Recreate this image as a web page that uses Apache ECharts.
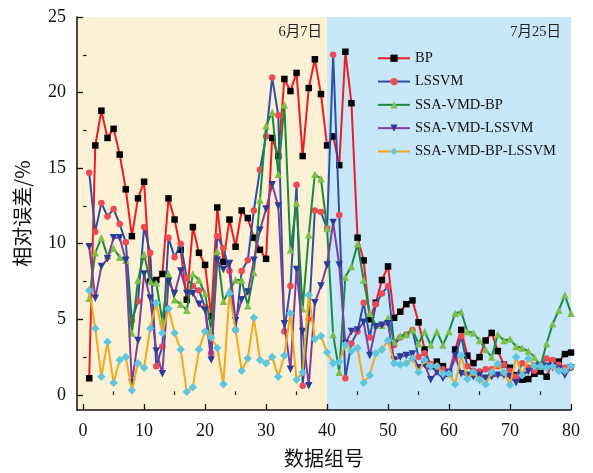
<!DOCTYPE html>
<html><head><meta charset="utf-8">
<script src="https://cdn.jsdelivr.net/npm/echarts@6/dist/echarts.min.js"></script>
<style>html,body{margin:0;padding:0;background:#fff}#c{width:593px;height:473px}</style>
</head><body><div id="c"></div>
<script>
const groups = [1,2,3,4,5,6,7,8,9,10,11,12,13,14,15,16,17,18,19,20,21,22,23,24,25,26,27,28,29,30,31,32,33,34,35,36,37,38,39,40,41,42,43,44,45,46,47,48,49,50,51,52,53,54,55,56,57,58,59,60,61,62,63,64,65,66,67,68,69,70,71,72,73,74,75,76,77,78,79,80];
const seriesNames = ['BP','LSSVM','SSA-VMD-BP','SSA-VMD-LSSVM','SSA-VMD-BP-LSSVM'];
const bp = [1.1,16.5,18.8,17.0,17.6,15.9,13.6,10.5,13.0,14.1,7.5,7.6,8.0,13.0,11.6,9.6,6.3,11.1,9.4,8.6,5.2,12.4,8.8,11.6,9.8,12.2,11.7,10.4,9.6,9.0,17.0,15.8,20.9,20.1,21.3,15.8,20.3,22.2,19.9,16.5,17.1,15.2,22.7,19.3,10.4,8.9,5.0,6.1,7.6,8.5,5.1,5.5,6.0,6.25,4.8,3.0,1.9,2.2,1.9,1.4,3.0,4.3,2.6,2.1,2.5,3.6,4.1,2.9,2.0,1.8,1.3,1.0,1.05,1.4,1.55,1.2,2.2,2.2,2.7,2.8];
const lssvm = [14.7,10.8,12.7,11.8,12.3,11.3,10.1,4.9,6.2,11.1,9.4,1.9,3.2,10.4,9.1,10.0,7.7,7.2,6.9,5.8,2.75,10.5,9.7,8.2,4.3,8.2,8.9,12.2,14.9,17.1,21.0,18.5,4.2,7.2,13.9,0.6,5.0,12.2,12.1,11.0,22.5,11.9,1.1,3.4,4.2,6.1,3.8,6.0,6.7,7.2,3.3,3.8,4.0,4.3,2.5,2.75,2.05,1.9,1.7,1.4,2.4,3.9,1.9,1.6,1.55,1.7,1.7,1.9,2.0,1.6,1.2,2.1,1.8,1.6,2.0,2.4,2.3,2.0,1.8,1.8];
const ssaVmdBp = [6.4,9.4,10.4,9.2,9.7,9.1,8.9,4.1,7.6,9.3,7.5,7.4,4.9,8.0,6.3,6.0,5.6,8.0,7.6,6.7,4.3,9.5,6.2,6.9,7.6,7.6,5.9,8.1,12.9,17.8,18.7,14.6,19.2,9.6,12.7,5.7,10.6,14.6,14.3,11.0,4.0,1.5,7.8,8.5,10.0,7.6,5.4,4.6,4.6,5.1,3.5,3.9,4.0,4.3,3.4,4.2,3.3,4.2,3.3,4.2,5.4,5.5,4.2,4.1,3.6,3.0,2.5,4.0,3.6,3.7,3.2,3.1,2.9,2.5,1.9,3.4,4.7,5.6,6.6,5.4];
const ssaVmdLssvm = [9.8,6.4,8.5,9.0,10.4,10.4,8.9,0.8,3.6,8.0,6.4,2.9,1.4,7.5,6.7,8.2,6.7,6.7,6.0,5.6,2.3,8.9,8.3,8.7,4.9,6.3,6.8,8.9,10.9,12.3,13.9,12.5,4.7,1.7,8.3,4.2,0.6,6.1,7.2,8.6,11.4,8.6,3.4,4.2,4.3,4.8,2.6,4.5,4.6,4.7,2.3,2.5,2.6,2.7,1.8,2.0,1.0,1.5,1.1,1.5,2.6,1.4,1.3,1.2,1.3,1.1,1.2,1.3,1.3,1.2,0.8,1.3,1.55,1.9,1.8,1.9,1.8,1.7,1.3,1.8];
const ssaVmdBpLssvm = [6.9,4.4,1.2,3.5,0.8,2.3,2.5,0.3,2.1,1.8,4.4,6.1,4.1,5.7,4.1,3.0,0.2,0.5,3.0,4.2,3.8,3.1,0.7,6.7,4.3,1.6,2.4,5.1,2.3,2.1,2.5,1.2,2.6,5.4,1.0,1.5,6.6,3.7,3.9,2.8,2.1,2.2,3.3,2.9,3.1,0.8,1.3,2.75,3.0,3.6,2.1,2.0,2.1,2.4,1.5,2.3,1.9,1.9,1.4,1.4,0.7,2.6,1.05,1.5,1.0,0.7,1.5,2.05,1.5,0.65,2.5,1.3,2.4,1.9,1.9,1.8,1.9,1.6,1.6,1.9];
const xMajorTicks = [0,10,20,30,40,50,60,70,80];
const xMinorTicks = [5,15,25,35,45,55,65,75];
const yMajorTicks = [0,5,10,15,20,25];
const yMinorTicks = [2.5,7.5,12.5,17.5,22.5];
const periodLabels = ['6月7日','7月25日'];
const periodBounds = [-1,40,80];

const serifFont = 'Liberation Serif, Noto Sans CJK SC, serif';
const cjkFont = 'Noto Sans CJK SC, sans-serif';

const styles = [
  {line:'#EC1C24', mark:'#000000', symbol:'rect', size:6.5, rotate:0},
  {line:'#2E4FA8', mark:'#EE4A55', symbol:'circle', size:6.5, rotate:0},
  {line:'#198A3C', mark:'#7CC04B', symbol:'triangle', size:7.5, rotate:0},
  {line:'#7E3F9C', mark:'#2C3A98', symbol:'triangle', size:7.5, rotate:180},
  {line:'#F0A81C', mark:'#5EC6DF', symbol:'diamond', size:8.5, rotate:0}
];
const allData = [bp, lssvm, ssaVmdBp, ssaVmdLssvm, ssaVmdBpLssvm];

const periodLabelStyle = {show: true, position: 'insideTopRight', formatter: '{b}', color: '#222', fontSize: 14.5, fontFamily: serifFont};

const series = allData.map((vals, i) => {
  const s = {
    name: seriesNames[i],
    type: 'line',
    data: groups.map((g, j) => [g, vals[j]]),
    symbol: styles[i].symbol,
    symbolSize: styles[i].size,
    symbolRotate: styles[i].rotate,
    showAllSymbol: true,
    lineStyle: {color: styles[i].line, width: 2},
    itemStyle: {color: styles[i].mark, borderWidth: 0},
    emphasis: {disabled: true},
    animation: false,
    z: 3 + i
  };
  if (i === 0) {
    s.markArea = {
      silent: true,
      label: periodLabelStyle,
      data: [
        [{name: periodLabels[0], xAxis: periodBounds[0], itemStyle: {color: '#FCF1D4'}, label: Object.assign({}, periodLabelStyle, {offset: [0, 3]})}, {xAxis: periodBounds[1]}],
        [{name: periodLabels[1], xAxis: periodBounds[1], itemStyle: {color: '#C7E6F7'}, label: Object.assign({}, periodLabelStyle, {offset: [-5, 3]})}, {xAxis: periodBounds[2]}]
      ]
    };
  }
  return s;
});

const chart = echarts.init(document.getElementById('c'), null, {renderer: 'canvas'});
chart.setOption({
  animation: false,
  backgroundColor: '#ffffff',
  grid: {left: 77, right: 22, top: 17, bottom: 59, containLabel: false},
  legend: {
    data: seriesNames,
    orient: 'vertical',
    left: 372, top: 46,
    itemWidth: 32, itemHeight: 9, itemGap: 8.8,
    textStyle: {fontFamily: serifFont, fontSize: 14.5, color: '#111'},
    selectedMode: false
  },
  xAxis: [
    {
      type: 'value', min: -1, max: 80, z: 10,
      name: '数据组号', nameLocation: 'middle', nameGap: 38,
      nameTextStyle: {fontFamily: cjkFont, fontSize: 20, color: '#111'},
      axisLine: {show: true, onZero: false, lineStyle: {color: '#111', width: 1.5}},
      axisTick: {show: true, inside: true, length: 6, customValues: xMajorTicks, lineStyle: {color: '#111', width: 1.3}},
      axisLabel: {show: true, customValues: xMajorTicks, margin: 12, fontFamily: serifFont, fontSize: 18, color: '#111'},
      splitLine: {show: false}
    },
    {
      type: 'value', min: -1, max: 80, z: 10, position: 'bottom',
      axisLine: {show: false},
      axisTick: {show: true, inside: true, length: 3.5, customValues: xMinorTicks, lineStyle: {color: '#111', width: 1.2}},
      axisLabel: {show: false},
      splitLine: {show: false}
    }
  ],
  yAxis: [
    {
      type: 'value', min: -1, max: 25, z: 10,
      name: '相对误差/%', nameLocation: 'middle', nameGap: 45,
      nameTextStyle: {fontFamily: cjkFont, fontSize: 20, color: '#111'},
      axisLine: {show: true, onZero: false, lineStyle: {color: '#111', width: 1.5}},
      axisTick: {show: true, inside: true, length: 6, customValues: yMajorTicks, lineStyle: {color: '#111', width: 1.3}},
      axisLabel: {show: true, customValues: yMajorTicks, margin: 11, fontFamily: serifFont, fontSize: 18, color: '#111'},
      splitLine: {show: false}
    },
    {
      type: 'value', min: -1, max: 25, z: 10, position: 'left',
      axisLine: {show: false},
      axisTick: {show: true, inside: true, length: 3.5, customValues: yMinorTicks, lineStyle: {color: '#111', width: 1.2}},
      axisLabel: {show: false},
      splitLine: {show: false}
    }
  ],
  series: series
});
</script>
</body></html>
